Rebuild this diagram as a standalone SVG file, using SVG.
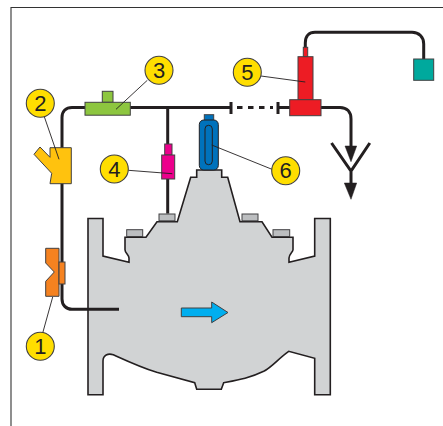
<svg xmlns="http://www.w3.org/2000/svg" width="443" height="426" viewBox="0 0 443 426">
<style>
.pipe{fill:none;stroke:#231f20;stroke-width:3}
.part{stroke:#414042;stroke-width:1}
.bolt{fill:#bcbec0;stroke:#414042;stroke-width:1}
.lead{fill:none;stroke:#231f20;stroke-width:.9}
.tag{fill:#ffde00;stroke:#414042;stroke-width:1.1}
.num{font-family:"Liberation Sans",Arial,sans-serif;font-size:22px;fill:#231f20;text-anchor:middle}
</style>
<rect width="443" height="426" fill="#fff"/>
<path id="frame" d="M11 426V7.5H443" fill="none" stroke="#333" stroke-width="1.1"/>
<g id="valve">
<path d="M88 218.5H103V256L129 262.3V258C129 255 125 253 125 249.7V237.3H146L157 221.8H177.3L190.7 177.3H196.7V170H221.7V177.3H227.7L240 221.8H262L272 237.3H293V249.7C293 252 289 254 289 258V262.3L314.7 256V218.5H330.3V394.7H314.7V358.3L288.7 351.3C279 358 272 367 263.7 371.3C250 378 238 380 223.7 382.7L221.3 389.3H196.7L194.7 382.7L156.7 372.3C140 367 125 360 113.3 354.7C108 353 103 355 103 361V394.7H88Z" fill="#d1d3d4" stroke="#231f20" stroke-width="1.6" stroke-linejoin="miter"/>
<rect class="bolt" x="126.7" y="229.7" width="16" height="6.8"/>
<rect class="bolt" x="159" y="214" width="16" height="6.8"/>
<rect class="bolt" x="242" y="214" width="16" height="6.8"/>
<rect class="bolt" x="273" y="229.7" width="16.7" height="6.8"/>
<path d="M181.3 308H211.7V302L228 312.5L211.7 322.7V316.7H181.3Z" fill="#00aeef" stroke="#414042" stroke-width="1"/>
</g>
<g id="connectors">
<path class="pipe" d="M119 309.3H72C66 309.3 62 305 62 299V117.5C62 111 66 107.5 72 107.5H231"/>
<path class="pipe" d="M167.7 107.5V213.5"/>
<path class="pipe" d="M231 102V114M278 102V114M278 107.5H292"/>
<path class="pipe" d="M237 107.5H273" stroke-dasharray="5.5 5.5"/>
<path class="pipe" d="M320 107.5H340C347 107.5 351 112 351 119V148"/>
<path class="pipe" d="M305.3 48V43C305.3 36 309 32.3 315 32.3H412C419 32.3 423.7 37 423.7 44V60"/>
<path class="pipe" d="M331.5 143L351 171L369.8 143M351 171V184"/>
<path d="M345 146H356.7L351 161.7Z M344.3 183H356.7L351 199.3Z" fill="#231f20" stroke="#231f20" stroke-width=".5"/>
</g>
<g id="part1">
<path class="part" d="M45.7 248.3H59V296.3H45.7V281.3L54.3 272L45.7 263Z" fill="#f58220"/>
<rect class="part" x="59" y="262" width="6" height="22" fill="#f58220"/>
</g>
<g id="part2">
<path class="part" d="M50 147.7H71.3V183.7H50L51.7 173.3L34 154.3L40 147L50 157.3Z" fill="#ffc20e"/>
</g>
<g id="part3">
<rect class="part" x="102.3" y="91.3" width="10.7" height="11" fill="#8dc63f"/>
<rect class="part" x="85" y="102.3" width="45.3" height="12.9" fill="#8dc63f"/>
</g>
<g id="part4">
<rect class="part" x="164.7" y="144" width="7.3" height="11" fill="#ec008c"/>
<rect class="part" x="161.7" y="155" width="13" height="24" fill="#ec008c"/>
</g>
<g id="part5">
<rect class="part" x="303.3" y="47.3" width="4.4" height="9.4" fill="#ed1c24"/>
<rect class="part" x="298" y="56.7" width="15" height="43" fill="#ed1c24"/>
<rect class="part" x="289.7" y="99.7" width="31.3" height="16" fill="#ed1c24"/>
</g>
<g id="part6">
<rect class="part" x="204.3" y="114.7" width="9.4" height="6" fill="#0072bc"/>
<rect x="199.3" y="120" width="19" height="50" rx="4.5" fill="#0072bc" stroke="#231f20" stroke-width="1"/>
<rect x="205" y="125.3" width="7.3" height="39.4" rx="3.6" fill="#0072bc" stroke="#231f20" stroke-width="1"/>
</g>
<g id="sensor">
<rect class="part" x="413.7" y="59" width="20" height="21.3" fill="#00a99d"/>
</g>
<g id="leaders">
<path class="lead" d="M147.3 80.3L116 109.3M44.3 116.7L59 159.3M128.3 170.3L172.3 173.7M261 76L305.3 82M272 169.3L211.7 145M42.7 333L52.7 297"/>
</g>
<g id="label1"><circle class="tag" cx="40.3" cy="346.3" r="14"/><text class="num" x="40.3" y="354">1</text></g>
<g id="label2"><circle class="tag" cx="40.3" cy="103.3" r="14"/><text class="num" x="40.3" y="111">2</text></g>
<g id="label3"><circle class="tag" cx="159" cy="70.3" r="14"/><text class="num" x="159" y="78">3</text></g>
<g id="label4"><circle class="tag" cx="114.3" cy="169" r="14"/><text class="num" x="114.3" y="176.7">4</text></g>
<g id="label5"><circle class="tag" cx="247.3" cy="72.3" r="14"/><text class="num" x="247.3" y="80">5</text></g>
<g id="label6"><circle class="tag" cx="285.7" cy="170.7" r="14"/><text class="num" x="285.7" y="178.4">6</text></g>
</svg>
